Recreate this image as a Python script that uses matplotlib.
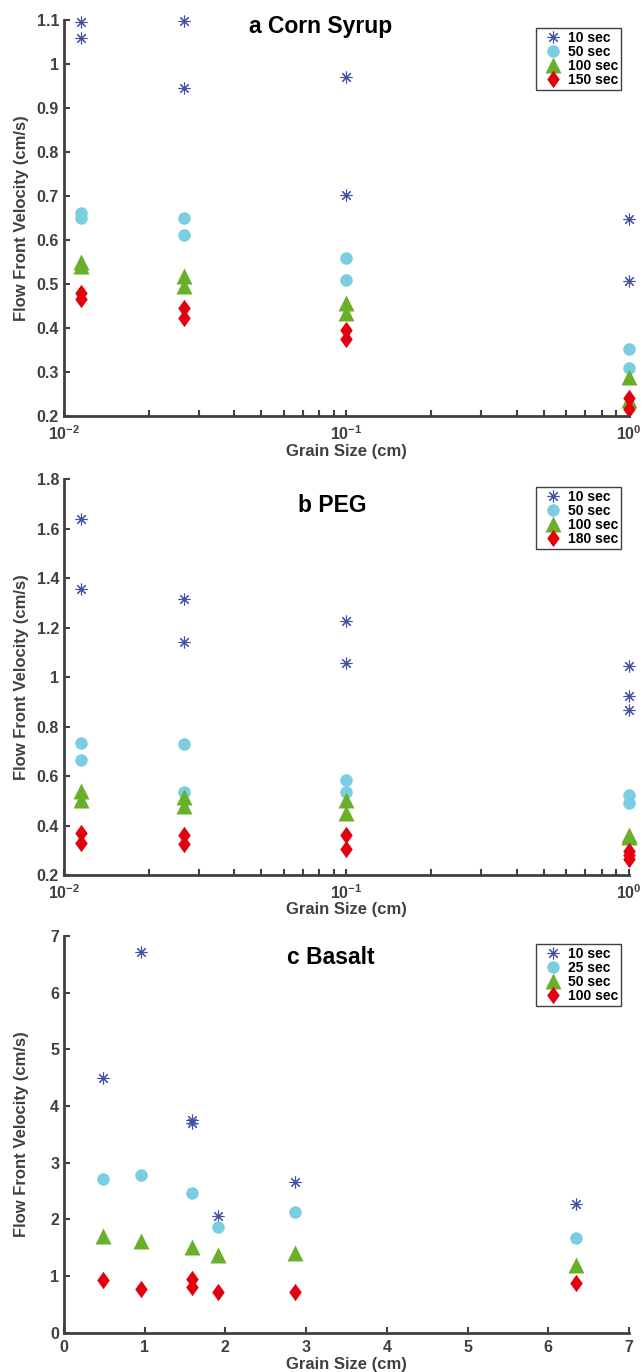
import numpy as np
import matplotlib
matplotlib.use('Agg')
import matplotlib.pyplot as plt
from matplotlib.path import Path as MPath
from matplotlib.ticker import FixedLocator, NullFormatter, LogLocator

plt.rcParams['font.family'] = ['Liberation Sans', 'DejaVu Sans']
plt.rcParams['font.weight'] = 'bold'
plt.rcParams['mathtext.fontset'] = 'custom'
plt.rcParams['mathtext.rm'] = 'Liberation Sans:bold'
plt.rcParams['mathtext.bf'] = 'Liberation Sans:bold'
plt.rcParams['mathtext.default'] = 'rm'

# --- data: panel a, Corn Syrup (grain size cm, velocity cm/s) ---
a_x = [0.0115, 0.0115, 0.0265, 0.0265, 0.1, 0.1, 1.0, 1.0]
a_10 = [1.095, 1.059, 1.097, 0.945, 0.971, 0.702, 0.647, 0.507]
a_50 = [0.661, 0.649, 0.650, 0.611, 0.558, 0.508, 0.352, 0.308]
a_100 = [0.551, 0.540, 0.518, 0.495, 0.456, 0.433, 0.289, 0.236]
a_150 = [0.479, 0.467, 0.446, 0.422, 0.395, 0.374, 0.240, 0.215]
a_labels = ['10 sec', '50 sec', '100 sec', '150 sec']

# --- panel b, PEG ---
b_x10 = [0.0115, 0.0115, 0.0265, 0.0265, 0.1, 0.1, 1.0, 1.0, 1.0]
b_10 = [1.638, 1.358, 1.316, 1.142, 1.227, 1.057, 1.046, 0.925, 0.867]
b_x = [0.0115, 0.0115, 0.0265, 0.0265, 0.1, 0.1, 1.0, 1.0]
b_50 = [0.735, 0.665, 0.731, 0.537, 0.584, 0.537, 0.523, 0.492]
b_100 = [0.540, 0.503, 0.517, 0.480, 0.503, 0.449, 0.364, 0.352]
b_x180 = [0.0115, 0.0115, 0.0265, 0.0265, 0.1, 0.1, 1.0, 1.0, 1.0]
b_180 = [0.371, 0.328, 0.362, 0.325, 0.362, 0.304, 0.296, 0.280, 0.264]
b_labels = ['10 sec', '50 sec', '100 sec', '180 sec']

# --- panel c, Basalt ---
c_x10 = [0.48, 0.955, 1.585, 1.585, 1.905, 2.86, 6.35]
c_10 = [4.49, 6.72, 3.75, 3.71, 2.06, 2.66, 2.265]
c_x = [0.48, 0.955, 1.585, 1.905, 2.86, 6.35]
c_25 = [2.72, 2.78, 2.47, 1.87, 2.135, 1.68]
c_50 = [1.71, 1.62, 1.52, 1.37, 1.41, 1.19]
c_x100 = [0.48, 0.955, 1.585, 1.585, 1.905, 2.86, 6.35]
c_100 = [0.93, 0.78, 0.95, 0.80, 0.72, 0.72, 0.88]
c_labels = ['10 sec', '25 sec', '50 sec', '100 sec']

AX_COL = '#404040'
# matlab-like diamond, a bit wider than mpl's thin diamond
diamond = MPath([(0, 1), (0.72, 0), (0, -1), (-0.72, 0), (0, 1)],
                [MPath.MOVETO, MPath.LINETO, MPath.LINETO, MPath.LINETO, MPath.CLOSEPOLY])
STYLES = [
    dict(marker=(8, 2, 0), ms=8.5, mec='#4052A8', mfc='#4052A8', mew=0.8),
    dict(marker='o', ms=9.0, mec='none', mfc='#7BCDE0'),
    dict(marker='^', ms=11.5, mec='none', mfc='#6AAF2A'),
    dict(marker=diamond, ms=12.5, mec='none', mfc='#E3000F'),
]


def style_axes(ax):
    for s in ['top', 'right']:
        ax.spines[s].set_visible(False)
    for s in ['left', 'bottom']:
        ax.spines[s].set_linewidth(2.0)
        ax.spines[s].set_color(AX_COL)
    ax.tick_params(which='both', direction='in', width=1.5, color=AX_COL,
                   labelcolor=AX_COL, labelsize=11.5)
    ax.tick_params(which='major', length=4.5)
    ax.tick_params(which='minor', length=4)
    ax.set_ylabel('Flow Front Velocity (cm/s)', fontsize=12, color=AX_COL,
                  fontweight='bold')
    ax.set_xlabel('Grain Size (cm)', fontsize=12, color=AX_COL, fontweight='bold')
    ax.yaxis.set_label_coords(-0.062, 0.5)


def draw_series(ax, series, labels):
    for (x, y), st, lab in zip(series, STYLES, labels):
        ax.plot(x, y, linestyle='none', label=lab, clip_on=False, **st)
    leg = ax.legend(loc='upper right', bbox_to_anchor=(0.9858, 0.9798),
                    borderaxespad=0, fontsize=10, labelspacing=0.0,
                    handlelength=2.1, handletextpad=0.0, borderpad=0.2,
                    fancybox=False, framealpha=1, numpoints=1)
    leg.get_frame().set_edgecolor(AX_COL)
    leg.get_frame().set_linewidth(1.0)
    for t in leg.get_texts():
        t.set_fontweight('bold')


def log_xaxis(ax):
    ax.set_xscale('log')
    ax.set_xlim(0.01, 1.0)
    ax.xaxis.set_major_locator(FixedLocator([0.01, 0.1, 1.0]))
    ax.set_xticklabels([r'$10^{-2}$', r'$10^{-1}$', r'$10^{0}$'])
    ax.xaxis.set_minor_locator(LogLocator(base=10, subs=np.arange(2, 10)))
    ax.xaxis.set_minor_formatter(NullFormatter())
    ax.tick_params(axis='x', which='major', pad=6)


fig = plt.figure(figsize=(6.41, 13.72), dpi=100)
L, W = 0.0998, 0.8814
ax_a = fig.add_axes([L, 0.6968, W, 0.2886])
ax_b = fig.add_axes([L, 0.3622, W, 0.2884])
ax_c = fig.add_axes([L, 0.0286, W, 0.2891])

# panel a
style_axes(ax_a)
draw_series(ax_a, [(a_x, a_10), (a_x, a_50), (a_x, a_100), (a_x, a_150)], a_labels)
log_xaxis(ax_a)
ax_a.set_ylim(0.2, 1.1)
a_yt = [0.2, 0.3, 0.4, 0.5, 0.6, 0.7, 0.8, 0.9, 1.0, 1.1]
ax_a.set_yticks(a_yt)
ax_a.set_yticklabels(['0.2', '0.3', '0.4', '0.5', '0.6', '0.7', '0.8', '0.9', '1', '1.1'])
ax_a.xaxis.set_label_coords(0.5, -0.072)
ax_a.text(0.327, 0.967, 'a Corn Syrup', transform=ax_a.transAxes, ha='left',
          va='baseline', fontsize=16.5, fontweight='bold', color='black')

# panel b
style_axes(ax_b)
draw_series(ax_b, [(b_x10, b_10), (b_x, b_50), (b_x, b_100), (b_x180, b_180)], b_labels)
log_xaxis(ax_b)
ax_b.set_ylim(0.2, 1.8)
ax_b.set_yticks([0.2, 0.4, 0.6, 0.8, 1.0, 1.2, 1.4, 1.6, 1.8])
ax_b.set_yticklabels(['0.2', '0.4', '0.6', '0.8', '1', '1.2', '1.4', '1.6', '1.8'])
ax_b.xaxis.set_label_coords(0.5, -0.068)
ax_b.text(0.415, 0.918, 'b PEG', transform=ax_b.transAxes, ha='left',
          va='baseline', fontsize=16.5, fontweight='bold', color='black')

# panel c
style_axes(ax_c)
draw_series(ax_c, [(c_x10, c_10), (c_x, c_25), (c_x, c_50), (c_x100, c_100)], c_labels)
ax_c.set_xlim(0, 7)
ax_c.set_ylim(0, 7)
ax_c.set_xticks(range(0, 8))
ax_c.set_yticks(range(0, 8))
ax_c.tick_params(axis='x', which='major', pad=5)
ax_c.xaxis.set_label_coords(0.5, -0.06)
ax_c.text(0.395, 0.929, 'c Basalt', transform=ax_c.transAxes, ha='left',
          va='baseline', fontsize=16.5, fontweight='bold', color='black')

fig.savefig('out.png', dpi=100)
